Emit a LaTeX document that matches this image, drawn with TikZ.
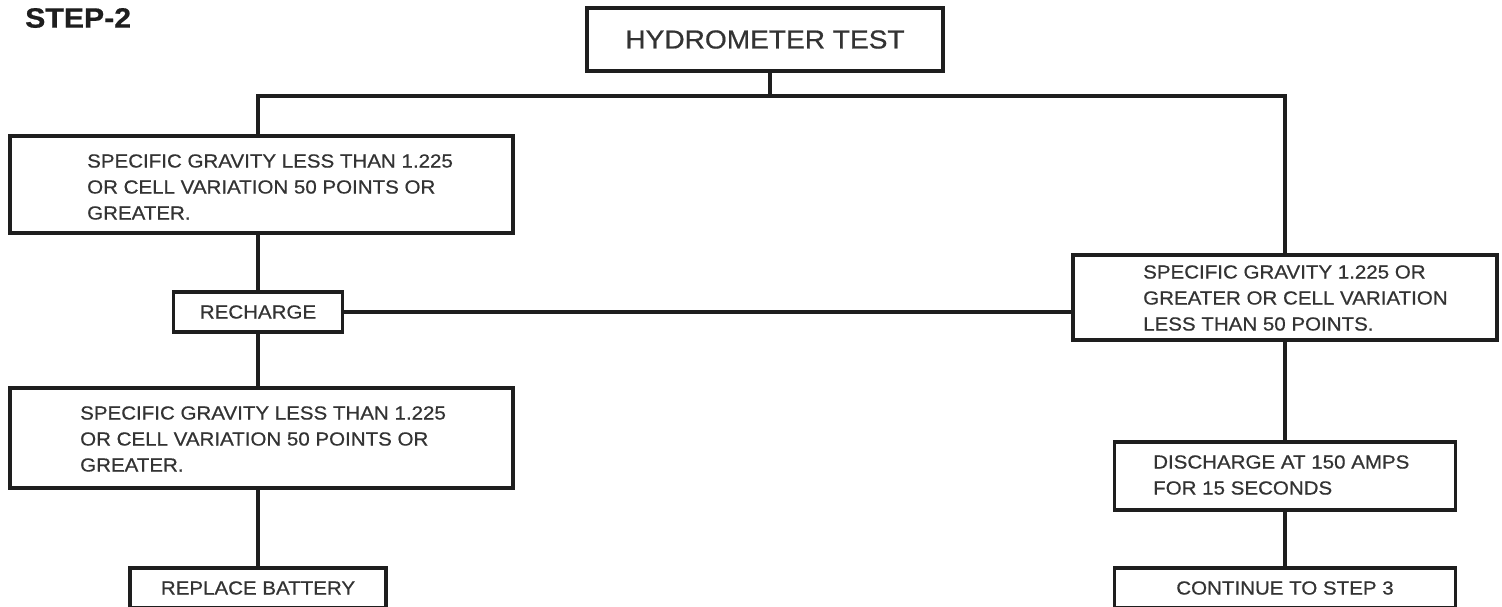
\documentclass[tikz,border=0pt]{standalone}
\usepackage{fontspec}
\setmainfont{Liberation Sans}
\newfontfamily\chartfont[FakeStretch=1.08,FakeBold=0.6]{Liberation Sans}
\definecolor{ink}{HTML}{1E1E1E}
\definecolor{print}{HTML}{333333}

\begin{document}
\begin{tikzpicture}[x=1pt,y=-1pt,
  box/.style={draw=ink, line width=3.2pt, rectangle, inner sep=0pt,
    text=print, font=\chartfont\fontsize{19}{26}\selectfont},
  txt/.style={anchor=west, align=left, inner sep=0pt, text=print,
    font=\chartfont\fontsize{19}{26}\selectfont},
  wire/.style={draw=ink, line width=3.2pt}]
\useasboundingbox (0,0) rectangle (1502,606);
\clip (0,0) rectangle (1502,606);

% heading
\node[anchor=west, inner sep=0pt, text=ink,
  font=\chartfont\bfseries\fontsize{28}{28}\selectfont] (title) at (25,18) {STEP-2};

% top box
\node[box, minimum width=356, minimum height=63,
  font=\chartfont\fontsize{26}{26}\selectfont] (hyd) at (765,39.5) {HYDROMETER TEST};

% left column
\node[box, minimum width=503, minimum height=97] (low1) at (261.5,184.5) {};
\node[txt] (low1t) at (87,187) {SPECIFIC GRAVITY LESS THAN 1.225\\OR CELL VARIATION 50 POINTS OR\\GREATER.};
\node[box, minimum width=169, minimum height=40] (rech) at (258,312) {RECHARGE};
\node[box, minimum width=503, minimum height=100] (low2) at (261.5,438) {};
\node[txt] (low2t) at (80,439) {SPECIFIC GRAVITY LESS THAN 1.225\\OR CELL VARIATION 50 POINTS OR\\GREATER.};
\node[box, minimum width=256, minimum height=40] (repl) at (258,588) {REPLACE BATTERY};

% right column
\node[box, minimum width=424, minimum height=85] (high) at (1285,297.5) {};
\node[txt] (hight) at (1143,298) {SPECIFIC GRAVITY 1.225 OR\\GREATER OR CELL VARIATION\\LESS THAN 50 POINTS.};
\node[box, minimum width=341, minimum height=68] (disc) at (1285,476) {};
\node[txt] (disct) at (1153,475) {DISCHARGE AT 150 AMPS\\FOR 15 SECONDS};
\node[box, minimum width=341, minimum height=40] (cont) at (1285,588) {CONTINUE TO STEP 3};

% branch from the test box
\coordinate (split) at (770,96);
\coordinate (splitL) at (258,96);
\coordinate (splitR) at (1285,96);
\draw[wire] (hyd.south -| split) -- (split);
\draw[wire] (splitL |- low1.north) -- (splitL) -- (splitR) -- (high.north);

% left chain
\draw[wire] (rech.north) -- (rech.north |- low1.south);
\draw[wire] (rech.south) -- (rech.south |- low2.north);
\draw[wire] (repl.north) -- (repl.north |- low2.south);
\draw[wire] (rech.east) -- (rech.east -| high.west);

% right chain
\draw[wire] (high.south) -- (disc.north);
\draw[wire] (disc.south) -- (cont.north);
\end{tikzpicture}
\end{document}
